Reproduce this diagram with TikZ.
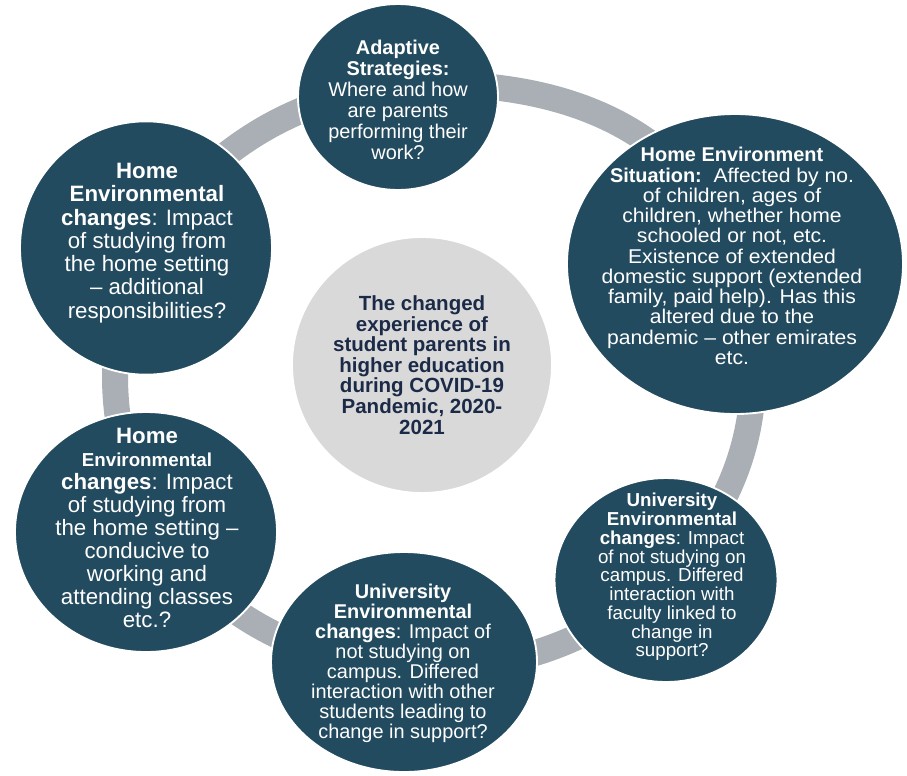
\documentclass[tikz,border=0pt]{standalone}
\usepackage{fontspec}
\setmainfont{Liberation Sans}
\newfontfamily\widefont[FakeStretch=1.06]{Liberation Sans}
\usetikzlibrary{shapes.geometric}
\definecolor{navy}{HTML}{234B5F}
\definecolor{ringgray}{HTML}{A9AFB5}
\definecolor{centergray}{HTML}{D9D9D9}
\definecolor{centertext}{HTML}{1B2A47}
\tikzset{
  bubble/.style={ellipse, fill=navy, draw=white, line width=1.6pt, inner sep=0pt},
  hub/.style={ellipse, fill=centergray, draw=white, line width=1.6pt, inner sep=0pt},
  ringline/.style={draw=ringgray, line width=0.78cm},
  btext/.style={text=white, align=center, inner sep=0pt},
  ctext/.style={text=centertext, align=center, inner sep=0pt, font=\bfseries},
}
\newcommand{\headb}[1]{{\rmfamily\bfseries #1}}
\begin{document}
\begin{tikzpicture}[x=0.03cm, y=-0.03cm]
\useasboundingbox (0,0) rectangle (907,775);
% ring
\coordinate (rt) at (434,84);
\coordinate (rr) at (753,376);
\coordinate (rb) at (434,668);
\coordinate (rl) at (115,376);
\draw[ringline] (rt) .. controls (640,84) and (753,190) .. (rr)
  .. controls (753,537) and (610,668) .. (rb)
  .. controls (250,672) and (115,545) .. (rl)
  .. controls (115,215) and (258,84) .. (rt) -- cycle;
% circles
\node[hub, minimum width=7.8cm, minimum height=7.68cm] (hubc) at (422,365) {};
\node[bubble, minimum width=6.0cm, minimum height=5.58cm] (topc) at (398,97) {};
\node[bubble, minimum width=10.08cm, minimum height=9.0cm] (rightc) at (735,264) {};
\node[bubble, minimum width=7.56cm, minimum height=7.6cm] (ltc) at (146,248) {};
\node[bubble, minimum width=7.86cm, minimum height=7.2cm] (lbc) at (146,532) {};
\node[bubble, minimum width=7.98cm, minimum height=6.6cm] (botc) at (404,662) {};
\node[bubble, minimum width=6.69cm, minimum height=6.12cm] (brc) at (666,580) {};
% texts
\node[ctext, font=\fontsize{17.5pt}{17.6pt}\selectfont\bfseries] (hubt) at (422,365)
  {The changed\\experience of\\student parents in\\higher education\\during COVID-19\\Pandemic, 2020-\\2021};
\node[btext, font=\fontsize{17pt}{18pt}\selectfont] (topt) at (398,100)
  {\textbf{Adaptive}\\\textbf{Strategies:}\\Where and how\\are parents\\performing their\\work?};
\node[btext, font=\widefont\fontsize{17pt}{17.3pt}\selectfont] (rightt) at (732,256)
  {\headb{Home Environment}\\\headb{Situation:}\ \ Affected by no.\\of children, ages of\\children, whether home\\schooled or not, etc.\\Existence of extended\\domestic support (extended\\family, paid help). Has this\\altered due to the\\pandemic – other emirates\\etc.};
\node[btext, font=\fontsize{19pt}{19.9pt}\selectfont] (ltt) at (147,243)
  {\textbf{Home}\\\textbf{Environmental}\\\textbf{changes}: Impact\\of studying from\\the home setting\\– additional\\responsibilities?};
\node[btext, font=\fontsize{19pt}{19.6pt}\selectfont] (lbt) at (147,528)
  {\textbf{Home}\\{\fontsize{16pt}{19.6pt}\selectfont\textbf{Environmental}}\\\textbf{changes}: Impact\\of studying from\\the home setting –\\conducive to\\working and\\attending classes\\etc.?};
\node[btext, font=\fontsize{17pt}{17.1pt}\selectfont] (bott) at (403,663)
  {\textbf{University}\\\textbf{Environmental}\\\textbf{changes}: Impact of\\not studying on\\campus. Differed\\interaction with other\\students leading to\\change in support?};
\node[btext, font=\fontsize{16pt}{16pt}\selectfont] (brt) at (672,577)
  {\textbf{University}\\\textbf{Environmental}\\\textbf{changes}: Impact\\of not studying on\\campus. Differed\\interaction with\\faculty linked to\\change in\\support?};
\end{tikzpicture}
\end{document}
